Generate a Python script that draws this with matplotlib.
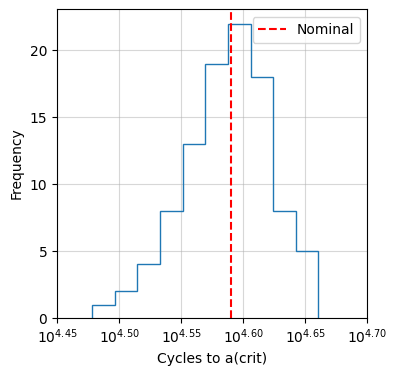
import numpy as np
import matplotlib
matplotlib.use("Agg")
import matplotlib.pyplot as plt

# log10 of cycles, bin edges
bin_lo = 4.4782
bin_hi = 4.6608
counts = [1, 2, 4, 8, 13, 19, 22, 18, 8, 5]
nominal_log = 4.5903

tick_vals = [4.45, 4.50, 4.55, 4.60, 4.65, 4.70]
tick_labels = [r"$10^{%.2f}$" % v for v in tick_vals]

edges = np.linspace(bin_lo, bin_hi, len(counts) + 1)
centers = 0.5 * (edges[:-1] + edges[1:])

fig = plt.figure(figsize=(3.96, 3.75), dpi=100)
ax = fig.add_axes([0.144, 0.152, 0.783, 0.824])

ax.hist(centers, bins=edges, weights=counts, histtype="step", color="#1f77b4")
ax.axvline(nominal_log, color="red", linestyle="--", label="Nominal")

ax.set_xlim(tick_vals[0], tick_vals[-1])
ax.set_xticks(tick_vals)
ax.set_xticklabels(tick_labels)
ax.set_xlabel("Cycles to a(crit)")
ax.set_ylabel("Frequency")
ax.grid(True, alpha=0.5)
ax.set_axisbelow(True)
ax.legend(loc="upper right", bbox_to_anchor=(1.0, 0.995))

fig.savefig("out.png", dpi=100)
